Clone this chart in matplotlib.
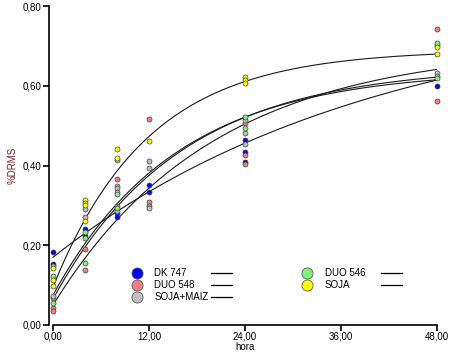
import numpy as np
import matplotlib
matplotlib.use('Agg')
import matplotlib.pyplot as plt

plt.rcParams['font.family'] = ['Liberation Sans', 'DejaVu Sans']

# groups and point colours
groups = ["DK 747", "DUO 548", "SOJA+MAIZ", "DUO 546", "SOJA"]
colors = ["#0000ff", "#f08080", "#c0c0c0", "#80f080", "#ffff00"]

# observed points (hora, %DRMS) per group
dk747_t = [0, 0, 4, 4, 8, 8, 12, 12, 24, 24, 24, 48]
dk747_y = [0.183, 0.153, 0.241, 0.222, 0.281, 0.271, 0.351, 0.334, 0.464, 0.434, 0.409, 0.600]
duo548_t = [0, 0, 0, 4, 4, 8, 8, 12, 12, 12, 24, 24, 24, 48, 48]
duo548_y = [0.068, 0.043, 0.036, 0.190, 0.138, 0.366, 0.298, 0.517, 0.308, 0.298, 0.507, 0.426, 0.404, 0.742, 0.562]
sojamaiz_t = [0, 0, 4, 4, 8, 8, 8, 8, 8, 12, 12, 12, 24, 24, 24, 48, 48, 48]
sojamaiz_y = [0.148, 0.073, 0.291, 0.271, 0.414, 0.349, 0.344, 0.334, 0.286, 0.411, 0.394, 0.293,
              0.514, 0.481, 0.454, 0.702, 0.632, 0.625]
duo546_t = [0, 0, 4, 4, 4, 8, 8, 24, 24, 48, 48]
duo546_y = [0.123, 0.055, 0.233, 0.218, 0.156, 0.328, 0.293, 0.522, 0.494, 0.707, 0.620]
soja_t = [0, 0, 0, 4, 4, 4, 4, 8, 8, 12, 24, 24, 24, 48, 48]
soja_y = [0.143, 0.113, 0.097, 0.313, 0.306, 0.300, 0.261, 0.441, 0.419, 0.462, 0.622, 0.614, 0.607, 0.697, 0.680]

# fitted curves y = y0 + (ymax - y0) * (1 - exp(-k t)), parameters per group
fit_y0 = [0.17, 0.05, 0.075, 0.065, 0.095]
fit_ymax = [0.81, 0.70, 0.64, 0.65, 0.69]
fit_k = [0.0247, 0.050, 0.065, 0.063, 0.084]

xticks = [0, 12, 24, 36, 48]
yticks = [0.0, 0.2, 0.4, 0.6, 0.8]

W, H = 454, 353
fig = plt.figure(figsize=(W / 100, H / 100), dpi=100)
ax = fig.add_axes([49 / W, 28 / H, 388 / W, 319 / H])

point_t = [dk747_t, duo548_t, sojamaiz_t, duo546_t, soja_t]
point_y = [dk747_y, duo548_y, sojamaiz_y, duo546_y, soja_y]

tt = np.linspace(0, 48, 200)
for y0, ym, k in zip(fit_y0, fit_ymax, fit_k):
    ax.plot(tt, y0 + (ym - y0) * (1 - np.exp(-k * tt)), color='#1a1a1a', lw=0.8, zorder=2)

for t, y, c in zip(point_t, point_y, colors):
    ax.plot(t, y, 'o', ms=3.6, mfc=c, mec='#404040', mew=0.5, ls='none', clip_on=False, zorder=3)

ax.set_xlim(-0.5, 48)
ax.set_ylim(0, 0.8)
ax.set_xticks(xticks)
ax.set_xticklabels([f"{v:.2f}".replace('.', ',') for v in xticks])
ax.set_yticks(yticks)
ax.set_yticklabels([f"{v:.2f}".replace('.', ',') for v in yticks])
ax.spines['top'].set_visible(False)
ax.spines['right'].set_visible(False)
ax.spines['bottom'].set_bounds(0, 48)
for s in ['left', 'bottom']:
    ax.spines[s].set_linewidth(1.2)
ax.tick_params(direction='out', length=4, width=1.2, labelsize=7, pad=1.5)
ax.tick_params(axis='x', pad=1)

ax.set_xlabel("hora", fontsize=7, va='top')
ax.xaxis.set_label_coords(0.505, -0.052)
ax.set_ylabel("%DRMS", fontsize=7, color='#802020', va='center')
ax.yaxis.set_label_coords(-0.093, 0.5)

# legend, laid out by hand: marker, label, then a short line
leg_x = [(0.227, 0.271, 0.418, 0.472), (0.665, 0.711, 0.856, 0.910)]
leg_y = [0.163, 0.125, 0.088]
for i, (g, c) in enumerate(zip(groups, colors)):
    col, row = (0, i) if i < 3 else (1, i - 3)
    mx, tx, l0, l1 = leg_x[col]
    ly = leg_y[row]
    ax.plot([mx], [ly], 'o', ms=8, mfc=c, mec='#606060', mew=0.6, transform=ax.transAxes, clip_on=False)
    ax.text(tx, ly, g, fontsize=7, va='center', ha='left', transform=ax.transAxes)
    ax.plot([l0, l1], [ly, ly], color='black', lw=0.9, transform=ax.transAxes)

fig.savefig('out.png', dpi=100)
